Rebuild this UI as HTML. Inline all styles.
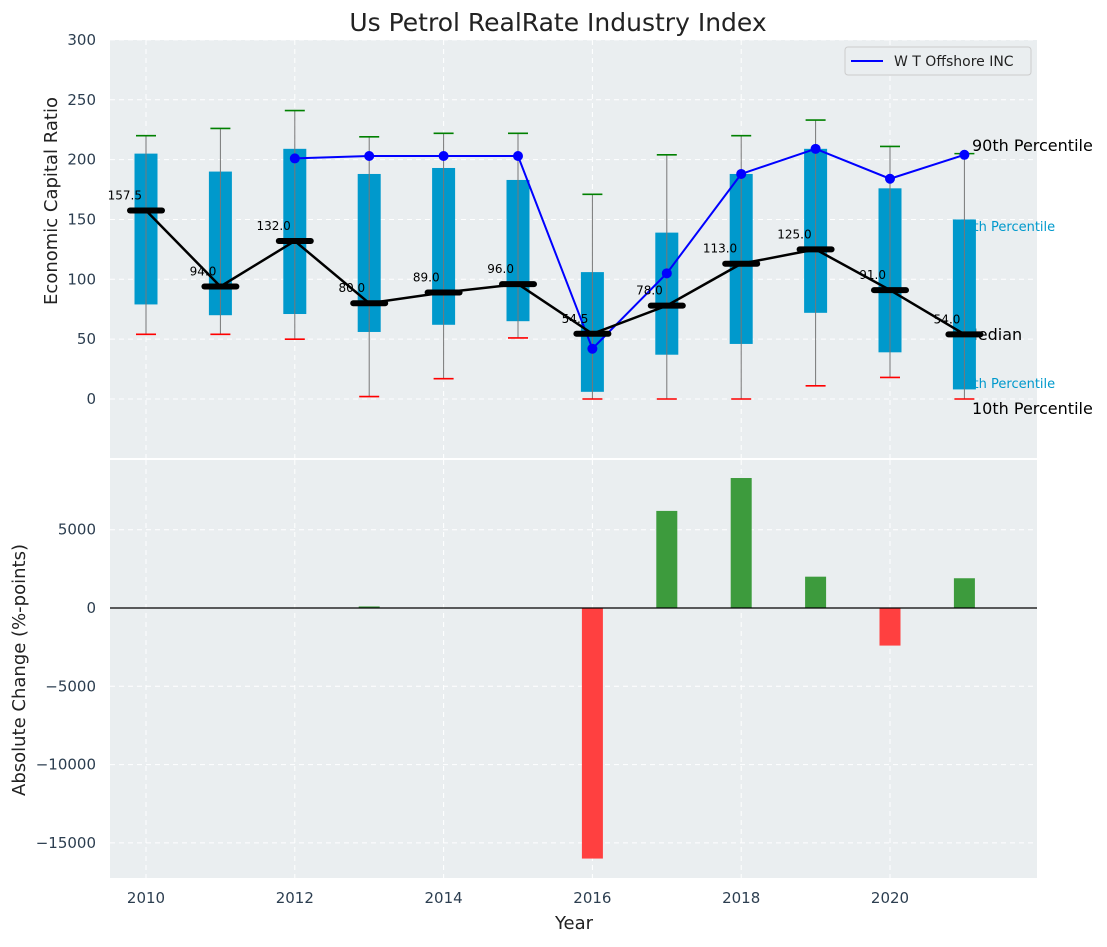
<!DOCTYPE html>
<html><head><meta charset="utf-8"><style>
body{margin:0;background:#fff;font-family:"Liberation Sans","DejaVu Sans",sans-serif;}
svg text{font-family:"DejaVu Sans","Liberation Sans",sans-serif;}
</style></head><body>
<svg id="c" width="1107" height="942" xmlns="http://www.w3.org/2000/svg">
<text x="558" y="31" text-anchor="middle" font-size="25" fill="#222">Us Petrol RealRate Industry Index</text>
<rect x="110" y="40" width="927" height="418" fill="#eaeef0"/>
<rect x="110" y="460" width="927" height="418" fill="#eaeef0"/>
<g id="topg"></g><g id="botg"></g>
<text x="57" y="201" transform="rotate(-90 57 201)" text-anchor="middle" font-size="18" fill="#222">Economic Capital Ratio</text>
<text x="25" y="670" transform="rotate(-90 25 670)" text-anchor="middle" font-size="18" fill="#222">Absolute Change (%-points)</text>
<text x="574" y="929" text-anchor="middle" font-size="18" fill="#222">Year</text>
<g>
<rect x="845" y="47" width="186" height="28" rx="3" fill="#eaeef0" stroke="#ccc"/>
<line x1="851" y1="61" x2="883" y2="61" stroke="#0000ff" stroke-width="2"/>
<text x="894" y="66" font-size="14" fill="#222">W T Offshore INC</text>
</g>
</svg>
<script>
const years=[2010,2011,2012,2013,2014,2015,2016,2017,2018,2019,2020,2021];
const p10=[54,54,50,2,17,51,0,0,0,11,18,0];
const p25=[79,70,71,56,62,65,6,37,46,72,39,8];
const median=[157.5,94,132,80,89,96,54.5,78,113,125,91,54];
const p75=[205,190,209,188,193,183,106,139,188,209,176,150];
const p90=[220,226,241,219,222,222,171,204,220,233,211,205];
const company=[null,null,201,203,203,203,42,105,188,209,184,204];
const change=[0,0,0,100,0,0,-16000,6200,8300,2000,-2400,1900];
const yTicksTop=[0,50,100,150,200,250,300];
const yTicksBot=[-15000,-10000,-5000,0,5000];
const xTicks=[2010,2012,2014,2016,2018,2020];
const NS='http://www.w3.org/2000/svg';
const X=v=>146+(v-2010)*74.4;
const YT=v=>399-v*1.197;
const YB=v=>608-v*78.3/5000;
function mk(p,t,a){const e=document.createElementNS(NS,t);for(const k in a)e.setAttribute(k,a[k]);p.appendChild(e);return e;}
const topG=document.getElementById('topg'),botG=document.getElementById('botg');
yTicksTop.forEach(v=>{const g=mk(topG,'line',{x1:110,x2:1037,y1:YT(v),y2:YT(v),stroke:'#fff','stroke-dasharray':'5,4'});

const t=mk(topG,'text',{x:96,y:YT(v)+5,'text-anchor':'end','font-size':15,fill:'#2c3e50'});t.textContent=v;
});
yTicksBot.forEach(v=>{const g=mk(botG,'line',{x1:110,x2:1037,y1:YB(v),y2:YB(v),stroke:'#fff','stroke-dasharray':'5,4'});

const t=mk(botG,'text',{x:96,y:YB(v)+5,'text-anchor':'end','font-size':15,fill:'#2c3e50'});t.textContent=v<0?'\u2212'+(-v):v;
});
xTicks.forEach(v=>{[[40,458],[460,878]].forEach(r=>{const g=mk(topG,'line',{x1:X(v),x2:X(v),y1:r[0],y2:r[1],stroke:'#fff','stroke-dasharray':'5,4'});
});
const t=mk(botG,'text',{x:X(v),y:903,'text-anchor':'middle','font-size':15,fill:'#2c3e50'});t.textContent=v;
});
const ann=[[957,231,'75th Percentile',13,'#0099cc'],[957,388,'25th Percentile',13,'#0099cc'],[972,151,'90th Percentile',16,'#000'],[964,340,'Median',16,'#000'],[972,414,'10th Percentile',16,'#000']];
ann.forEach(a=>{const t=mk(topG,'text',{x:a[0],y:a[1],'font-size':a[3],fill:a[4]});t.textContent=a[2];
});
years.forEach((y,i)=>{const x=X(y);
const b=mk(topG,'rect',{x:x-11.5,y:YT(p75[i]),width:23,height:YT(p25[i])-YT(p75[i]),fill:'#0099cc'});

const w=mk(topG,'line',{x1:x,x2:x,y1:YT(p10[i]),y2:YT(p90[i]),stroke:'#777','stroke-width':1});

const c1=mk(topG,'line',{x1:x-10,x2:x+10,y1:YT(p90[i]),y2:YT(p90[i]),stroke:'green','stroke-width':1.6});

const c2=mk(topG,'line',{x1:x-10,x2:x+10,y1:YT(p10[i]),y2:YT(p10[i]),stroke:'red','stroke-width':1.6});
});
let pts=[];years.forEach((y,i)=>{if(company[i]!==null)pts.push(X(y)+','+YT(company[i]));});
const cl=mk(topG,'polyline',{points:pts.join(' '),fill:'none',stroke:'#0000ff','stroke-width':2});

years.forEach((y,i)=>{if(company[i]===null)return;const d=mk(topG,'circle',{cx:X(y),cy:YT(company[i]),r:5,fill:'#0000ff'});
});
const ml=mk(topG,'polyline',{points:years.map((y,i)=>X(y)+','+YT(median[i])).join(' '),fill:'none',stroke:'#000','stroke-width':2.5});

years.forEach((y,i)=>{const x=X(y),yy=YT(median[i]);
const m=mk(topG,'line',{x1:x-16,x2:x+16,y1:yy,y2:yy,stroke:'#000','stroke-width':6,'stroke-linecap':'round'});

const t=mk(topG,'text',{x:x-4,y:yy-11,'text-anchor':'end','font-size':12,fill:'#000'});t.textContent=median[i].toFixed(1);
});
years.forEach((y,i)=>{const v=change[i];if(v===0)return;const y0=YB(0),y1=YB(v);
const r=mk(botG,'rect',{x:X(y)-10.5,y:Math.min(y0,y1),width:21,height:Math.abs(y1-y0),fill:v>0?'#3d9b3d':'#ff4040'});
});
const z=mk(botG,'line',{x1:110,x2:1037,y1:YB(0),y2:YB(0),stroke:'#000','stroke-width':1.3});

</script>
</body></html>
